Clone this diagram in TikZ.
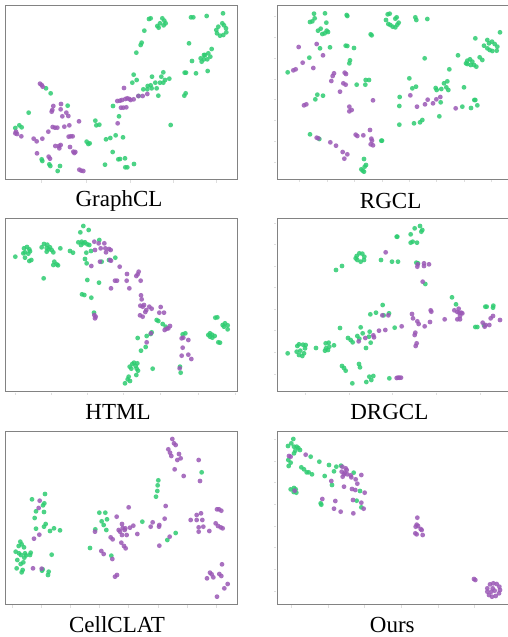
\documentclass[tikz,border=0pt]{standalone}
\usepackage{fontspec}
\setmainfont{Liberation Serif}
\definecolor{gcol}{RGB}{46,204,113}
\definecolor{pcol}{RGB}{155,89,182}
\definecolor{framecol}{RGB}{130,130,130}
\definecolor{tickcol}{RGB}{222,222,222}
\tikzset{
  gdot/.style={fill=gcol,fill opacity=0.85},
  pdot/.style={fill=pcol,fill opacity=0.85},
  panelframe/.style={draw=framecol,line width=0.9pt},
  tickmark/.style={draw=tickcol,line width=0.5pt},
  caption/.style={anchor=base,inner sep=0pt,font=\fontsize{23}{27}\selectfont}
}
\newcommand\GD[1]{\foreach \p in {#1} \fill[gdot] \p circle[radius=2.4pt];}
\newcommand\PD[1]{\foreach \p in {#1} \fill[pdot] \p circle[radius=2.4pt];}
\begin{document}
\begin{tikzpicture}
\useasboundingbox (0pt,0pt) rectangle (508pt,-637pt);
\fill[white] (0pt,0pt) rectangle (508pt,-637pt);

% ---------- GraphCL ----------
\begin{scope}[shift={(0pt,0pt)},x=0.33333pt,y=-0.33333pt]
\foreach \t in {125,258,390,520,650} \draw[tickmark] (\t,541) -- (\t,548);
\draw[panelframe] (15,15) rectangle (713,538);
\GD{(447,57),(452,55),(487,55),(493,62),(497,70),(491,76),(480,70),(472,78),(476,83),(433,92),(425,128),(422,135),(409,158),(573,52),(580,52),(620,48),(669,40),(667,70),(655,80),(649,90),(651,100),(660,107),(670,105),(679,97),(678,85),(672,76),(567,130),(576,183),(602,175),(605,185),(612,178),(615,165),(625,160),(631,170),(622,178),(635,147),(612,165),(554,218),(558,218),(588,220),(623,213),(401,224),(397,248),(410,240),(456,230),(490,217),(484,230),(490,248),(495,240),(508,236),(443,258),(452,256),(430,268),(442,268),(455,265),(466,248),(470,265),(480,248),(475,287),(416,288),(557,280),(553,287),(512,375),(339,318),(203,317),(86,338),(46,384),(58,376),(65,382),(138,265),(152,280),(286,362),(289,376),(298,374),(357,349),(318,418),(331,414),(347,406),(369,412),(260,425),(265,432),(269,430),(338,456),(355,478),(360,477),(375,475),(315,494),(376,502),(382,502),(402,492),(125,478),(127,483),(148,493),(151,498),(180,498),(173,513)}
\PD{(120,251),(125,255),(128,260),(160,318),(183,312),(157,330),(155,335),(182,328),(199,338),(205,348),(187,349),(237,364),(372,264),(352,303),(360,302),(366,300),(376,297),(382,295),(388,297),(392,300),(401,298),(363,323),(370,323),(379,322),(415,288),(428,288),(442,282),(353,370),(158,381),(165,383),(172,383),(193,380),(208,376),(145,395),(48,395),(46,400),(51,402),(64,409),(101,416),(110,424),(127,416),(206,410),(212,409),(218,409),(166,438),(177,438),(182,435),(178,445),(210,441),(220,455),(226,456),(223,459),(111,460),(146,470),(150,476),(238,509),(244,512),(250,513)}
\node[caption] (capA) at (357,621) {GraphCL};
\end{scope}

% ---------- RGCL ----------
\begin{scope}[shift={(254pt,0pt)},x=0.33333pt,y=-0.33333pt]
\foreach \t in {48,112,175,238,298,362,424,487} \draw[tickmark] (60,\t) -- (67,\t);
\foreach \t in {137,220,302,385,465,548,630,713} \draw[tickmark] (\t,540) -- (\t,547);
\draw[panelframe] (70,16) -- (770,16) (70,16) -- (70,537) -- (770,537);
\GD{(180,41),(213,40),(182,55),(168,66),(175,64),(217,68),(278,45),(280,48),(192,92),(200,86),(205,102),(212,100),(218,92),(222,96),(350,103),(353,106),(228,142),(198,145),(275,137),(280,138),(300,144),(166,173),(288,181),(286,190),(101,217),(190,284),(184,298),(207,287),(308,254),(335,240),(345,240),(334,254),(401,43),(407,41),(396,60),(403,72),(409,75),(416,80),(424,82),(430,74),(434,68),(424,56),(428,52),(484,52),(487,60),(520,57),(738,97),(664,115),(690,137),(700,120),(705,130),(714,125),(722,132),(730,140),(728,152),(715,153),(707,150),(700,145),(612,166),(512,175),(586,208),(640,182),(648,178),(655,185),(660,195),(667,200),(650,195),(640,192),(636,190),(677,172),(685,180),(466,235),(475,265),(486,260),(545,264),(548,270),(562,267),(570,250),(580,244),(577,262),(583,270),(630,262),(437,291),(436,318),(560,307),(661,300),(664,300),(625,320),(651,324),(670,316),(556,349),(436,374),(480,370),(498,367),(505,360),(168,403),(196,417),(382,422),(384,422),(330,477),(336,495),(332,500),(322,508),(326,512),(330,515)}
\PD{(134,141),(188,132),(207,166),(146,188),(178,204),(118,211),(125,208),(150,316),(157,313),(240,220),(236,228),(232,243),(272,218),(276,222),(268,250),(275,254),(258,275),(357,301),(286,320),(293,330),(286,334),(469,286),(489,320),(513,313),(521,299),(537,310),(547,298),(559,291),(605,325),(188,413),(193,415),(229,427),(246,437),(266,456),(280,463),(271,476),(305,404),(310,408),(328,406),(348,390),(352,416),(354,422),(350,433),(357,436)}
\node[caption] (capB) at (410,627) {RGCL};
\end{scope}

% ---------- HTML ----------
\begin{scope}[shift={(0pt,-210pt)},x=0.33333pt,y=-0.33333pt]
\foreach \t in {45,153,262,370,480,595,706} \draw[tickmark] (\t,548) -- (\t,555);
\draw[panelframe] (15,25) rectangle (713,545);
\GD{(250,48),(241,67),(266,60),(46,140),(72,115),(81,111),(88,118),(90,124),(75,127),(70,130),(75,143),(88,153),(94,150),(85,131),(125,112),(132,102),(142,104),(150,112),(146,118),(140,125),(160,127),(155,120),(140,114),(181,115),(210,123),(219,128),(163,155),(160,165),(170,163),(174,166),(131,205),(235,97),(245,95),(250,100),(255,97),(262,103),(268,105),(243,105),(259,128),(273,123),(298,90),(255,147),(260,160),(305,155),(327,150),(346,143),(262,210),(297,218),(246,253),(253,255),(274,263),(282,308),(470,330),(475,333),(488,342),(497,350),(413,384),(440,378),(455,367),(452,372),(437,411),(423,422),(397,462),(402,458),(407,468),(410,476),(394,476),(389,470),(414,482),(412,460),(458,476),(386,500),(383,508),(375,520),(390,513),(409,495),(548,373),(556,370),(540,470),(542,488),(646,323),(652,322),(630,370),(625,375),(630,380),(637,383),(644,378),(636,374),(668,345),(675,340),(683,346),(672,350),(683,358),(655,397),(660,398)}
\PD{(283,95),(296,100),(313,100),(302,115),(316,115),(327,117),(332,120),(318,127),(330,150),(333,152),(285,120),(274,168),(300,155),(359,170),(381,192),(416,185),(413,193),(409,198),(380,212),(345,212),(351,212),(422,212),(333,235),(388,235),(423,256),(425,268),(421,287),(432,285),(428,290),(439,300),(436,306),(448,290),(455,296),(420,316),(428,320),(482,291),(478,308),(492,308),(283,315),(287,320),(285,325),(494,360),(500,356),(505,355),(510,348),(453,370),(440,397),(545,385),(550,383),(565,390),(548,413),(545,437),(565,434),(574,447),(539,475)}
\node[caption] (capC) at (354,627) {HTML};
\end{scope}

% ---------- DRGCL ----------
\begin{scope}[shift={(254pt,-210pt)},x=0.33333pt,y=-0.33333pt]
\foreach \t in {40,103,168,233,297,362,427,492} \draw[tickmark] (60,\t) -- (67,\t);
\foreach \t in {153,285,415,547,678} \draw[tickmark] (\t,548) -- (\t,555);
\draw[panelframe] (70,25) -- (770,25) (70,25) -- (70,545) -- (770,545);
\GD{(498,48),(482,55),(470,73),(502,65),(505,60),(430,80),(428,80),(470,98),(476,95),(489,98),(487,158),(492,160),(514,222),(246,180),(264,168),(308,138),(316,130),(325,131),(331,140),(330,150),(320,155),(310,150),(305,145),(381,150),(414,155),(432,155),(386,285),(349,313),(366,308),(389,316),(405,310),(258,354),(320,352),(347,365),(326,370),(310,378),(282,384),(290,390),(296,397),(316,386),(345,380),(350,398),(336,414),(422,353),(594,262),(606,283),(694,290),(698,290),(718,287),(717,293),(664,351),(670,351),(690,346),(101,430),(130,408),(135,403),(147,404),(155,405),(153,415),(150,430),(145,438),(135,435),(128,425),(139,422),(186,414),(215,400),(224,398),(216,415),(213,422),(222,420),(226,410),(240,406),(264,468),(270,474),(275,482),(315,462),(318,472),(346,500),(358,498),(352,510),(337,516),(295,520),(406,505)}
\PD{(395,127),(491,163),(510,160),(525,163),(490,170),(510,168),(506,215),(385,316),(403,316),(443,349),(474,312),(477,325),(490,334),(494,342),(512,349),(528,336),(530,301),(532,305),(572,328),(601,301),(610,306),(614,296),(616,308),(622,308),(618,318),(610,328),(618,328),(625,310),(375,362),(358,376),(360,382),(394,360),(334,384),(314,394),(484,368),(482,375),(488,400),(485,408),(686,338),(692,350),(695,345),(706,345),(710,325),(717,318),(738,330),(428,504),(432,503),(436,503),(441,503)}
\node[caption] (capD) at (406,627) {DRGCL};
\end{scope}

% ---------- CellCLAT ----------
\begin{scope}[shift={(0pt,-420pt)},x=0.33333pt,y=-0.33333pt]
\foreach \t in {37,125,210,297,385,475,563,650} \draw[tickmark] (\t,556) -- (\t,563);
\draw[panelframe] (15,33) rectangle (713,553);
\GD{(96,238),(135,222),(133,250),(129,256),(108,274),(132,276),(104,294),(137,312),(132,320),(108,326),(150,333),(162,325),(180,331),(61,365),(65,373),(56,378),(72,382),(47,395),(57,400),(63,405),(75,400),(78,406),(73,413),(92,398),(90,405),(52,420),(62,432),(70,427),(50,445),(68,450),(65,457),(128,448),(126,452),(146,455),(144,465),(155,404),(298,278),(316,278),(321,298),(305,304),(286,328),(311,315),(319,330),(334,407),(270,384),(475,181),(473,196),(472,213),(468,230),(427,305),(527,339),(502,360),(605,157)}
\PD{(119,242),(116,264),(118,344),(102,356),(99,445),(125,446),(517,57),(522,70),(527,75),(505,88),(510,98),(514,108),(537,102),(542,115),(532,120),(524,148),(551,168),(596,120),(600,183),(386,262),(350,290),(497,258),(494,296),(478,315),(477,320),(458,307),(452,320),(478,377),(509,350),(366,312),(368,324),(356,330),(360,335),(374,330),(376,325),(390,323),(400,317),(366,345),(380,345),(412,342),(364,368),(372,378),(377,385),(332,352),(338,358),(285,335),(304,393),(311,402),(337,417),(345,470),(351,465),(590,285),(603,280),(572,300),(590,300),(607,300),(596,322),(596,335),(610,320),(628,333),(651,268),(657,268),(664,272),(647,310),(654,318),(662,322),(668,325),(666,433),(630,458),(635,463),(621,475),(640,472),(658,462),(664,468),(683,492),(673,505),(651,530)}
\node[caption] (capE) at (351,638) {CellCLAT};
\end{scope}

% ---------- Ours ----------
\begin{scope}[shift={(254pt,-420pt)},x=0.33333pt,y=-0.33333pt]
\foreach \t in {57,123,188,253,318,383,448,515} \draw[tickmark] (60,\t) -- (67,\t);
\foreach \t in {112,222,332,442,552,662} \draw[tickmark] (\t,556) -- (\t,563);
\draw[panelframe] (70,33) -- (770,33) (70,33) -- (70,553) -- (770,553);
\GD{(118,57),(112,70),(102,78),(120,80),(128,80),(133,84),(138,90),(124,92),(120,100),(103,120),(110,128),(104,138),(142,142),(150,148),(158,157),(164,157),(174,163),(170,110),(196,125),(225,135),(247,140),(261,137),(240,154),(212,168),(234,195),(299,158),(110,208),(120,204),(125,208),(127,218),(119,216),(200,250),(202,254),(318,213),(308,242),(322,262)}
\PD{(105,108),(110,110),(155,104),(265,140),(275,145),(278,150),(263,155),(272,158),(270,163),(266,170),(280,163),(290,166),(292,172),(305,178),(322,165),(232,183),(310,191),(270,200),(294,207),(304,210),(332,218),(205,237),(244,243),(297,240),(322,248),(240,266),(260,275),(298,280),(329,266),(122,212),(490,293),(488,314),(492,318),(485,320),(500,327),(503,330),(484,340),(488,343),(506,345),(660,477),(664,480),(700,505),(708,493),(718,490),(728,492),(736,500),(738,510),(735,520),(725,528),(714,530),(705,525),(700,515),(716,505),(722,512),(712,515)}
\node[caption] (capF) at (415,636) {Ours};
\end{scope}
\end{tikzpicture}
\end{document}
